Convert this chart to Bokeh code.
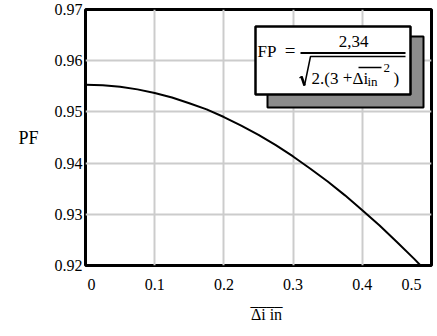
from bokeh.plotting import figure
from bokeh.models import Range1d, FixedTicker, Label, BoxAnnotation
from bokeh.embed import file_html
from bokeh.resources import INLINE

# Power factor versus the normalised input-current ripple
ripple = [0.0, 0.025, 0.05, 0.075, 0.1, 0.125, 0.15, 0.175, 0.2, 0.225, 0.25,
          0.275, 0.3, 0.325, 0.35, 0.375, 0.4, 0.425, 0.45, 0.475, 0.5]
pf = [0.9553, 0.9552, 0.9549, 0.9544, 0.9537, 0.9528, 0.9517, 0.9505, 0.9490,
      0.9473, 0.9455, 0.9435, 0.9413, 0.9389, 0.9364, 0.9337, 0.9308, 0.9278,
      0.9246, 0.9213, 0.9178]

x_ticks = [0, 0.1, 0.2, 0.3, 0.4, 0.5]
x_tick_labels = ["0", "0.1", "0.2", "0.3", "0.4", "0.5"]
y_ticks = [0.92, 0.93, 0.94, 0.95, 0.96, 0.97]
y_tick_labels = ["0.92", "0.93", "0.94", "0.95", "0.96", "0.97"]

X_RANGE = (0.0, 0.5)
Y_RANGE = (0.92, 0.97)

# canvas and plot-frame geometry (pixels)
W, H = 437, 336
LEFT, RIGHT, TOP, BOTTOM = 85, 431, 9, 265
FONT = "Liberation Serif"
NBSP = "\u00a0"

p = figure(width=W, height=H, title=None,
           x_range=Range1d(*X_RANGE), y_range=Range1d(*Y_RANGE),
           output_backend="svg", toolbar_location=None,
           min_border_left=LEFT, min_border_right=W - RIGHT,
           min_border_top=TOP, min_border_bottom=H - BOTTOM)
p.background_fill_color = "white"
p.border_fill_color = "white"
p.outline_line_color = "black"
p.outline_line_width = 3

# axes: labels only, the frame outline acts as the axis line
p.xaxis.ticker = FixedTicker(ticks=x_ticks)
p.yaxis.ticker = FixedTicker(ticks=y_ticks)
x_over = dict(zip(x_ticks, x_tick_labels))
# keep the end labels inside the canvas, flush with the frame corners
x_over[x_ticks[0]] = NBSP * 3 + x_tick_labels[0]
x_over[x_ticks[-1]] = x_tick_labels[-1] + NBSP * 4
p.xaxis.major_label_overrides = x_over
p.yaxis.major_label_overrides = dict(zip(y_ticks, y_tick_labels))
for ax in (p.xaxis, p.yaxis):
    ax.axis_line_color = None
    ax.major_tick_out = 0
    ax.major_tick_in = 0
    ax.minor_tick_out = 0
    ax.minor_tick_in = 0
    ax.major_label_text_font = FONT
    ax.major_label_text_font_size = "16px"
    ax.major_label_text_color = "black"
    ax.axis_label_text_font = FONT
    ax.axis_label_text_font_style = "normal"
    ax.axis_label_text_color = "black"
p.xaxis.major_label_standoff = 10
p.yaxis.major_label_standoff = 3

p.yaxis.axis_label = "PF"
p.yaxis.axis_label_orientation = "horizontal"
p.yaxis.axis_label_text_font_size = "18px"
p.yaxis.axis_label_standoff = 13

# x title: an overbar (row of underscores) set just above the symbol
pad = NBSP * 4
p.xaxis.axis_label = pad + "____\n" + pad + "\u0394i in"
p.xaxis.axis_label_text_font_size = "16px"
p.xaxis.axis_label_text_line_height = 0.86
p.xaxis.axis_label_standoff = -4

p.xgrid.ticker = FixedTicker(ticks=x_ticks)
p.ygrid.ticker = FixedTicker(ticks=y_ticks)
for g in (p.xgrid, p.ygrid):
    g.grid_line_color = "#cccccc"
    g.grid_line_width = 2


def px_x(px):
    return X_RANGE[0] + (px - LEFT) / (RIGHT - LEFT) * (X_RANGE[1] - X_RANGE[0])


def px_y(py):
    return Y_RANGE[1] - (py - TOP) / (BOTTOM - TOP) * (Y_RANGE[1] - Y_RANGE[0])


def text(t, px, py, size, align="left"):
    p.add_layout(Label(x=px_x(px), y=px_y(py), text=t, text_font=FONT,
                       text_font_size=f"{size}px", text_align=align,
                       text_baseline="middle", text_color="black"))


def stroke(xs, ys, width=1.5):
    p.line([px_x(v) for v in xs], [px_y(v) for v in ys],
           line_color="black", line_width=width, level="overlay")


# the curve
p.line(ripple, pf, line_color="black", line_width=2)

# formula box with drop shadow
p.add_layout(BoxAnnotation(left=px_x(267), right=px_x(423),
                           top=px_y(36), bottom=px_y(107),
                           fill_color="#8c8c8c", fill_alpha=1,
                           line_color="black", line_alpha=1, line_width=2))
p.add_layout(BoxAnnotation(left=px_x(255), right=px_x(410),
                           top=px_y(26), bottom=px_y(94),
                           fill_color="white", fill_alpha=1,
                           line_color="black", line_alpha=1, line_width=2.5))

# FP = 2,34 / sqrt(2.(3 + overline(di_in)^2))
text("FP", 257, 51, 17)
text("=", 289.5, 50, 19, "center")
text("2,34", 353, 40.5, 17, "center")
stroke([300, 405], [52.5, 52.5], 2)
stroke([299, 301, 304, 310, 405], [77.5, 76, 85, 56, 56], 1.5)
stroke([301, 304], [76, 85], 2.5)
text("2.(3", 311, 78, 17)
text("+", 347, 77, 17, "center")
text("\u0394i", 352, 78, 17)
text("in", 367, 81, 13)
text("2", 383, 67, 13)
text(")", 393, 78, 17)
stroke([358, 381], [67, 67], 1.5)

open("out.html", "w").write(file_html(p, INLINE))
